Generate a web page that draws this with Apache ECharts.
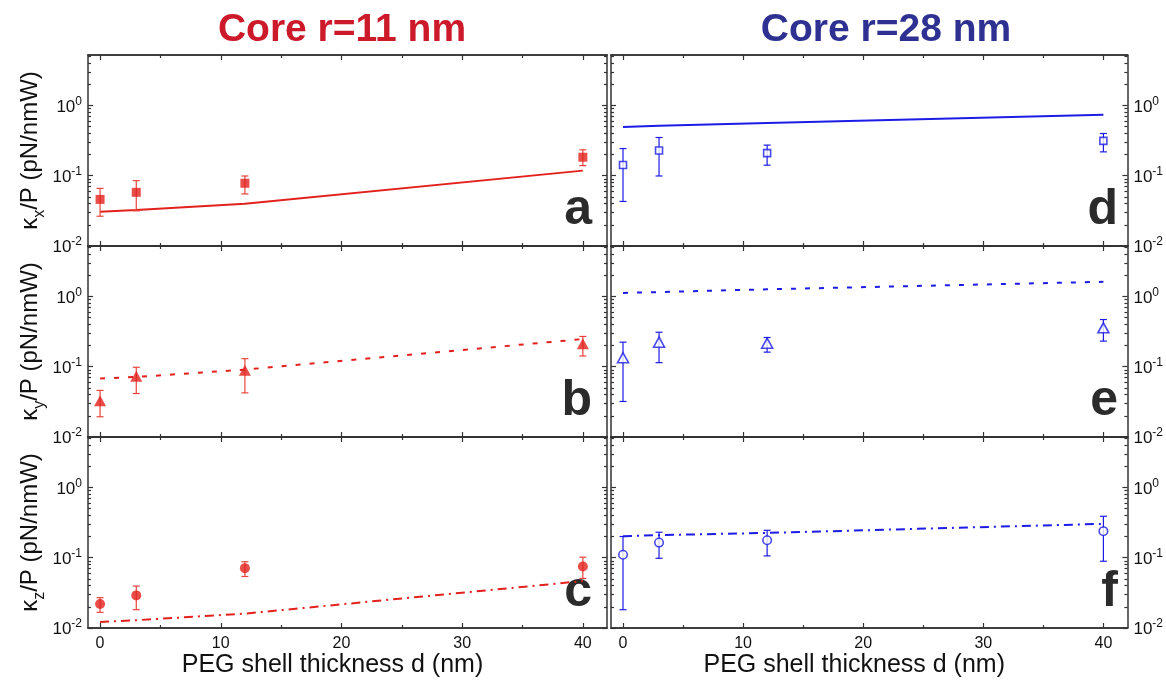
<!DOCTYPE html>
<html>
<head>
<meta charset="utf-8">
<title>Trap stiffness vs PEG shell thickness</title>
<script src="https://cdn.jsdelivr.net/npm/echarts@6/dist/echarts.min.js"></script>
<style>
html, body { margin: 0; padding: 0; background: #fff; }
#chart { width: 1166px; height: 682px; }
</style>
</head>
<body>
<div id="chart"></div>
<script>
// PEG shell thickness d (nm)
var thickness = [0, 3, 12, 40];

// core r = 11 nm : measured kappa/P (pN/nmW), error bar ends, model curve
var r11KxMean  = [0.046, 0.058, 0.078, 0.183];
var r11KxLow   = [0.0265, 0.0316, 0.055, 0.139];
var r11KxHigh  = [0.066, 0.085, 0.099, 0.233];
var r11KxModel = [0.0306, 0.0324, 0.040, 0.118];

var r11KyMean  = [0.0327, 0.073, 0.0887, 0.212];
var r11KyLow   = [0.0194, 0.0415, 0.0424, 0.142];
var r11KyHigh  = [0.046, 0.098, 0.13, 0.269];
var r11KyModel = [0.0678, 0.0714, 0.0908, 0.247];

var r11KzMean  = [0.0219, 0.0291, 0.071, 0.075];
var r11KzLow   = [0.0167, 0.0182, 0.054, 0.0507];
var r11KzHigh  = [0.027, 0.0395, 0.0875, 0.1016];
var r11KzModel = [0.0122, 0.0129, 0.016, 0.0465];

// core r = 28 nm
var r28KxMean  = [0.142, 0.228, 0.209, 0.313];
var r28KxLow   = [0.043, 0.099, 0.141, 0.218];
var r28KxHigh  = [0.243, 0.349, 0.272, 0.398];
var r28KxModel = [0.491, 0.513, 0.561, 0.736];

var r28KyMean  = [0.134, 0.223, 0.216, 0.357];
var r28KyLow   = [0.032, 0.114, 0.161, 0.231];
var r28KyHigh  = [0.223, 0.309, 0.26, 0.468];
var r28KyModel = [1.12, 1.15, 1.26, 1.61];

var r28KzMean  = [0.11, 0.164, 0.177, 0.238];
var r28KzLow   = [0.0182, 0.098, 0.106, 0.089];
var r28KzHigh  = [0.2, 0.23, 0.245, 0.388];
var r28KzModel = [0.202, 0.209, 0.225, 0.303];

// ticks
var xMajorTicks = [0, 10, 20, 30, 40];
var xMinorTicks = [5, 15, 25, 35];
var yMajorTicks = [0.01, 0.1, 1];
var yMinorTicks = [0.02, 0.03, 0.04, 0.05, 0.06, 0.07, 0.08, 0.09,
                   0.2, 0.3, 0.4, 0.5, 0.6, 0.7, 0.8, 0.9, 2, 3, 4, 5];

var titles = ['Core r=11 nm', 'Core r=28 nm'];
var xName = 'PEG shell thickness d (nm)';

var RED = '#e2211c';
var BLUE = '#1c1ce6';
var AXIS = '#333';
var FONT = 'Liberation Sans, Arial, sans-serif';

var Y_MIN = 0.01, Y_MAX = 5.2;

var colLeft = [88, 611];
var colWidth = [519, 518];
var rowTop = [55, 246, 437];
var rowHeight = 191;
var letterInset = [15, 11];
var titleX = [342, 886];

var panels = [
	{col: 0, row: 0, comp: 'x', letter: 'a', mean: r11KxMean, low: r11KxLow, high: r11KxHigh, model: r11KxModel, color: RED, symbol: 'rect', size: 9, open: false, dash: 'solid'},
	{col: 0, row: 1, comp: 'y', letter: 'b', mean: r11KyMean, low: r11KyLow, high: r11KyHigh, model: r11KyModel, color: RED, symbol: 'triangle', size: [12, 11], open: false, dash: [5, 9]},
	{col: 0, row: 2, comp: 'z', letter: 'c', mean: r11KzMean, low: r11KzLow, high: r11KzHigh, model: r11KzModel, color: RED, symbol: 'circle', size: 10, open: false, dash: [9, 5, 2, 5]},
	{col: 1, row: 0, comp: 'x', letter: 'd', mean: r28KxMean, low: r28KxLow, high: r28KxHigh, model: r28KxModel, color: BLUE, symbol: 'rect', size: 7, open: true, dash: 'solid'},
	{col: 1, row: 1, comp: 'y', letter: 'e', mean: r28KyMean, low: r28KyLow, high: r28KyHigh, model: r28KyModel, color: BLUE, symbol: 'triangle', size: [11, 10], open: true, dash: [5, 9]},
	{col: 1, row: 2, comp: 'z', letter: 'f', mean: r28KzMean, low: r28KzLow, high: r28KzHigh, model: r28KzModel, color: BLUE, symbol: 'circle', size: 8.5, open: true, dash: [9, 5, 2, 5]}
];

function log10(v) { return Math.log(v) / Math.LN10; }

function makeXAxis(gi, pos, ticks, len, labels) {
	return {
		type: 'value', gridIndex: gi, position: pos, min: -1, max: 42,
		axisLine: {show: true, onZero: false, lineStyle: {color: AXIS, width: 1.5}},
		axisTick: {show: true, inside: true, length: len, customValues: ticks, lineStyle: {color: AXIS, width: 1.2}},
		axisLabel: {show: labels, customValues: xMajorTicks, margin: 8, fontSize: 16, color: '#111', fontFamily: FONT},
		splitLine: {show: false},
		name: labels ? xName : '',
		nameLocation: 'middle', nameGap: 25,
		nameTextStyle: {fontSize: 25, color: '#111', fontFamily: FONT, padding: [0, 30, 0, 0]}
	};
}

// log axis carrying the data, the frame line, labels and name
function makeLogAxis(gi, pos, labels, name) {
	return {
		type: 'log', gridIndex: gi, position: pos, min: Y_MIN, max: Y_MAX, logBase: 10,
		axisLine: {show: true, onZero: false, lineStyle: {color: AXIS, width: 1.5}},
		axisTick: {show: false},
		axisLabel: {
			show: labels, customValues: yMajorTicks, margin: 6, color: '#111', fontFamily: FONT,
			formatter: function (v) {
				return '{b|10}{s|' + Math.round(log10(v)) + '}';
			},
			rich: {
				b: {fontSize: 17, lineHeight: 20, verticalAlign: 'bottom', fontFamily: FONT, color: '#111'},
				s: {fontSize: 12, lineHeight: 12, verticalAlign: 'top', fontFamily: FONT, color: '#111'}
			}
		},
		splitLine: {show: false},
		name: name || '',
		nameLocation: 'middle', nameGap: 46,
		nameTextStyle: {
			color: '#111', fontFamily: FONT,
			rich: {
				k: {fontSize: 24, lineHeight: 24, verticalAlign: 'top', fontFamily: FONT, color: '#111'},
				s: {fontSize: 16, lineHeight: 16, padding: [14, 0, 0, 0], verticalAlign: 'top', fontFamily: FONT, color: '#111'}
			}
		}
	};
}

// tick-only overlay in decade units, so the log ticks sit at 2..9 x 10^n
function makeTickAxis(gi, pos, ticks, len) {
	return {
		type: 'value', gridIndex: gi, position: pos, min: log10(Y_MIN), max: log10(Y_MAX),
		axisLine: {show: false, onZero: false},
		axisTick: {show: true, inside: true, length: len, customValues: ticks.map(log10), lineStyle: {color: AXIS, width: 1.2}},
		axisLabel: {show: false},
		splitLine: {show: false}
	};
}

function renderErrorBar(params, api) {
	var x = api.value(0);
	var lo = api.coord([x, api.value(1)]);
	var hi = api.coord([x, api.value(2)]);
	var w = 3.5;
	var style = {stroke: api.visual('color'), lineWidth: 1.2};
	return {
		type: 'group',
		children: [
			{type: 'line', shape: {x1: hi[0], y1: hi[1], x2: lo[0], y2: lo[1]}, style: style},
			{type: 'line', shape: {x1: hi[0] - w, y1: hi[1], x2: hi[0] + w, y2: hi[1]}, style: style},
			{type: 'line', shape: {x1: lo[0] - w, y1: lo[1], x2: lo[0] + w, y2: lo[1]}, style: style}
		]
	};
}

var grids = [], xAxes = [], yAxes = [], series = [], graphics = [];

panels.forEach(function (p, i) {
	grids.push({left: colLeft[p.col], top: rowTop[p.row], width: colWidth[p.col], height: rowHeight});

	var bottomLabels = p.row === 2;
	xAxes.push(makeXAxis(i, 'bottom', xMajorTicks, 5, bottomLabels));
	xAxes.push(makeXAxis(i, 'bottom', xMinorTicks, 3, false));
	xAxes.push(makeXAxis(i, 'top', xMajorTicks, 5, false));
	xAxes.push(makeXAxis(i, 'top', xMinorTicks, 3, false));

	var yName = p.col === 0 ? '{k|κ}{s|' + p.comp + '}{k|/P (pN/nmW)}' : '';
	yAxes.push(makeLogAxis(i, 'left', p.col === 0, yName));
	yAxes.push(makeTickAxis(i, 'left', yMajorTicks, 5));
	yAxes.push(makeTickAxis(i, 'left', yMinorTicks, 3));
	yAxes.push(makeLogAxis(i, 'right', p.col === 1, ''));
	yAxes.push(makeTickAxis(i, 'right', yMajorTicks, 5));
	yAxes.push(makeTickAxis(i, 'right', yMinorTicks, 3));

	var xi = i * 4, yi = i * 6;

	series.push({
		type: 'line', xAxisIndex: xi, yAxisIndex: yi, z: 2,
		data: thickness.map(function (d, k) { return [d, p.model[k]]; }),
		symbol: 'none',
		lineStyle: {color: p.color, width: 2, type: p.dash},
		itemStyle: {color: p.color}
	});
	series.push({
		type: 'custom', xAxisIndex: xi, yAxisIndex: yi, z: 3,
		renderItem: renderErrorBar,
		itemStyle: {color: p.open ? p.color : '#e8453c'},
		encode: {x: 0, y: [1, 2]},
		data: thickness.map(function (d, k) { return [d, p.low[k], p.high[k]]; })
	});
	series.push({
		type: 'scatter', xAxisIndex: xi, yAxisIndex: yi, z: 4,
		symbol: p.symbol, symbolSize: p.size,
		itemStyle: p.open ? {color: '#fff', borderColor: p.color, borderWidth: 1.6} : {color: p.color},
		data: thickness.map(function (d, k) { return [d, p.mean[k]]; })
	});

	graphics.push({
		type: 'text',
		x: colLeft[p.col] + colWidth[p.col] - letterInset[p.col],
		y: rowTop[p.row] + rowHeight - 36,
		style: {
			text: p.letter, fill: '#2b2b2b', font: 'bold 50px ' + FONT,
			align: 'right', verticalAlign: 'middle', textAlign: 'right', textVerticalAlign: 'middle'
		}
	});
});

titles.forEach(function (t, c) {
	graphics.push({
		type: 'text',
		x: titleX[c],
		y: 30,
		style: {
			text: t, fill: c === 0 ? '#cc1a2a' : '#2e3192', font: 'bold 39px ' + FONT,
			align: 'center', verticalAlign: 'middle', textAlign: 'center', textVerticalAlign: 'middle'
		}
	});
});

var myChart = echarts.init(document.getElementById('chart'));
myChart.setOption({
	animation: false,
	backgroundColor: '#fff',
	grid: grids,
	xAxis: xAxes,
	yAxis: yAxes,
	series: series,
	graphic: graphics
});
</script>
</body>
</html>
